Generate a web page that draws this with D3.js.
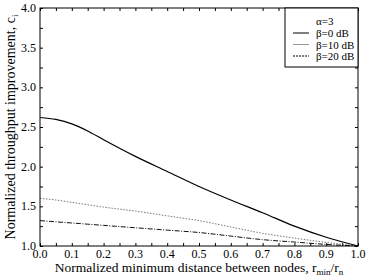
<!DOCTYPE html>
<html>
<head>
<meta charset="utf-8">
<script src="https://cdn.jsdelivr.net/npm/d3@7/dist/d3.min.js"></script>
</head>
<body style="margin:0">
<script>
// data
var distances = [0.0, 0.05, 0.1, 0.15, 0.2, 0.3, 0.4, 0.5, 0.6, 0.7, 0.8, 0.9, 1.0];
var beta0 = [2.62, 2.595, 2.54, 2.45, 2.34, 2.13, 1.94, 1.75, 1.58, 1.42, 1.25, 1.11, 1.0];
var beta10 = [1.60, 1.58, 1.55, 1.52, 1.49, 1.44, 1.38, 1.32, 1.24, 1.16, 1.10, 1.045, 1.0];
var beta20 = [1.32, 1.305, 1.29, 1.275, 1.26, 1.23, 1.20, 1.17, 1.125, 1.08, 1.05, 1.02, 1.0];
var xTickLabels = [0.0, 0.1, 0.2, 0.3, 0.4, 0.5, 0.6, 0.7, 0.8, 0.9, 1.0];
var yTickLabels = [1.0, 1.5, 2.0, 2.5, 3.0, 3.5, 4.0];
var seriesNames = ["\u03b2=0 dB", "\u03b2=10 dB", "\u03b2=20 dB"];

var width = 368, height = 280;
var margin = {left: 40, right: 10, top: 8, bottom: 34};
var w = width - margin.left - margin.right;
var h = height - margin.top - margin.bottom;
var FONT = "Liberation Serif";

var svg = d3.select("body").append("svg")
	.attr("width", width)
	.attr("height", height);

var g = svg.append("g")
	.attr("transform", "translate(" + margin.left + "," + margin.top + ")");

var x = d3.scaleLinear().domain([0, 1]).range([0, w]);
var y = d3.scaleLinear().domain([1, 4]).range([h, 0]);

// inward ticks on all four sides, no labels here
var xTicks = d3.range(0, 1.0001, 0.05);
var yTicks = d3.range(1, 4.0001, 0.25);
var tickLen = 3;

g.append("g")
	.attr("transform", "translate(0," + h + ")")
	.call(d3.axisBottom(x).tickValues(xTicks).tickSize(-tickLen).tickFormat(""));
g.append("g")
	.call(d3.axisTop(x).tickValues(xTicks).tickSize(-tickLen).tickFormat(""));
g.append("g")
	.call(d3.axisLeft(y).tickValues(yTicks).tickSize(-tickLen).tickFormat(""));
g.append("g")
	.attr("transform", "translate(" + w + ",0)")
	.call(d3.axisRight(y).tickValues(yTicks).tickSize(-tickLen).tickFormat(""));

g.selectAll(".domain").remove();
g.selectAll(".tick text").remove();
g.selectAll(".tick line").attr("stroke", "#000");

function label(sel, size) {
	return sel.append("text")
		.style("font-family", FONT)
		.style("font-size", size + "px")
		.attr("fill", "#000");
}

// tick labels
xTickLabels.forEach(function (d) {
	label(g, 12)
		.attr("x", x(d))
		.attr("y", h + 12)
		.attr("text-anchor", "middle")
		.text(d.toFixed(1));
});
yTickLabels.forEach(function (d) {
	label(g, 12)
		.attr("x", -4)
		.attr("y", y(d) + 4)
		.attr("text-anchor", "end")
		.text(d.toFixed(1));
});

// curves
var series = [
	{values: beta0, color: "#000", dash: null, sw: 1.2},
	{values: beta10, color: "#777", dash: "1.5,1.5", sw: 1},
	{values: beta20, color: "#111", dash: "5,1.5,1,1.5", sw: 1}
];

var line = d3.line()
	.x(function (d) { return x(d[0]); })
	.y(function (d) { return y(d[1]); })
	.curve(d3.curveMonotoneX);

series.forEach(function (s) {
	g.append("path")
		.datum(distances.map(function (d, i) { return [d, s.values[i]]; }))
		.attr("fill", "none")
		.attr("stroke", s.color)
		.attr("stroke-width", s.sw)
		.attr("stroke-dasharray", s.dash)
		.attr("d", line);
});

// frame
g.append("rect")
	.attr("width", w)
	.attr("height", h)
	.attr("fill", "none")
	.attr("stroke", "#000");

// legend
var legendSeries = [
	{color: "#000", dash: null},
	{color: "#999", dash: null},
	{color: "#000", dash: "2,1"}
];
var lg = g.append("g").attr("transform", "translate(" + (w - 73) + ",0)");
lg.append("rect")
	.attr("width", 73)
	.attr("height", 59)
	.attr("fill", "#fff")
	.attr("stroke", "#000");
label(lg, 11).attr("x", 31).attr("y", 17).text("\u03b1=3");
seriesNames.forEach(function (name, i) {
	var yy = 25 + i * 11.5;
	lg.append("line")
		.attr("x1", 8).attr("x2", 24)
		.attr("y1", yy).attr("y2", yy)
		.attr("stroke", legendSeries[i].color)
		.attr("stroke-dasharray", legendSeries[i].dash);
	label(lg, 11).attr("x", 31).attr("y", yy + 4).text(name);
});

// axis titles
var xt = label(svg, 13.5)
	.attr("x", margin.left + w / 2)
	.attr("y", 272)
	.attr("text-anchor", "middle");
xt.append("tspan").text("Normalized minimum distance between nodes, r");
xt.append("tspan").style("font-size", "9px").attr("dy", 3).text("min");
xt.append("tspan").attr("dy", -3).text("/r");
xt.append("tspan").style("font-size", "9px").attr("dy", 3).text("n");

var yt = label(svg, 14)
	.attr("transform", "translate(15," + (margin.top + h / 2) + ") rotate(-90)")
	.attr("text-anchor", "middle");
yt.append("tspan").text("Normalized throughput improvement, c");
yt.append("tspan").style("font-size", "9px").attr("dy", 3).text("i");
</script>
</body>
</html>
